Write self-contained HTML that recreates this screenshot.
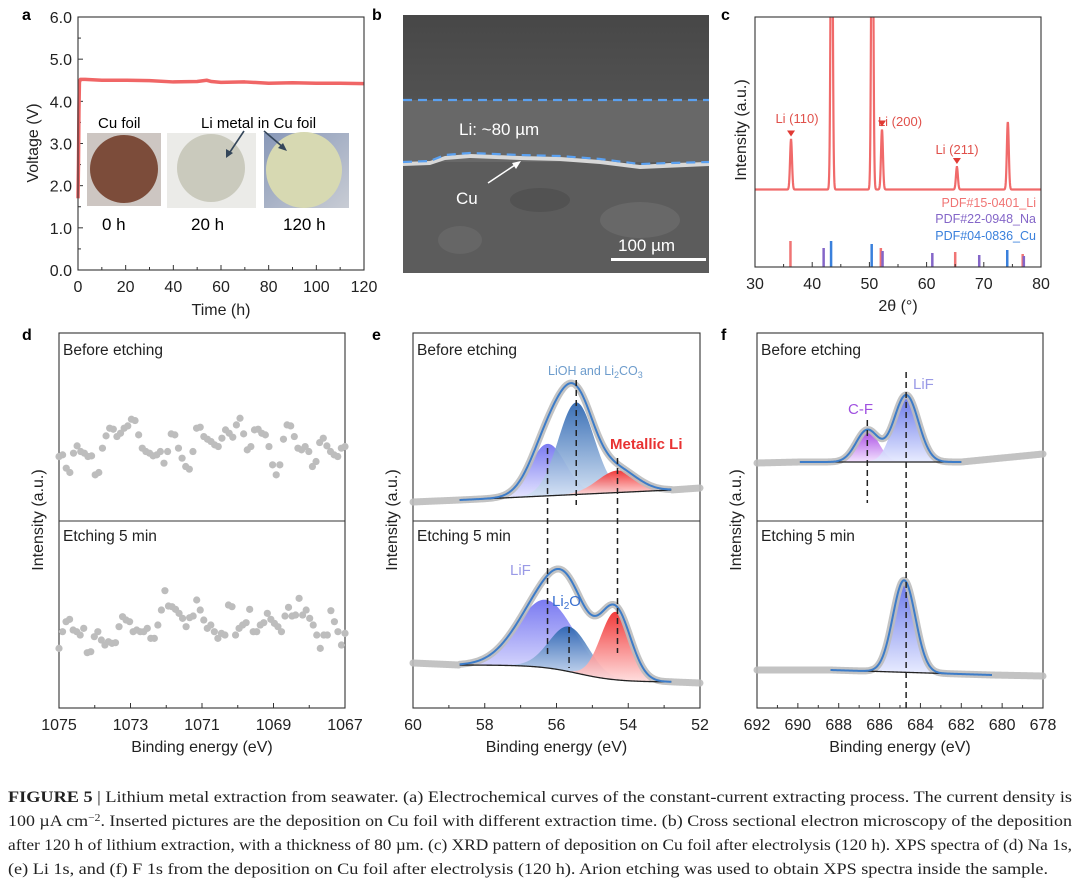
<!DOCTYPE html>
<html><head><meta charset="utf-8">
<style>
html,body{margin:0;padding:0;background:#fff;}
svg{display:block;font-family:"Liberation Sans",Arial,sans-serif;}
.cap{font-family:"Liberation Serif",serif;font-size:15.5px;fill:#222;}
</style></head>
<body>
<svg id="fig" width="1080" height="881" viewBox="0 0 1080 881" xmlns="http://www.w3.org/2000/svg">
<defs>
<linearGradient id="gPur" x1="0" y1="0" x2="0" y2="1"><stop offset="0" stop-color="#6f6ff0"/><stop offset="1" stop-color="#e4e4ff"/></linearGradient>
<linearGradient id="gBlu" x1="0" y1="0" x2="0" y2="1"><stop offset="0" stop-color="#2a64b0"/><stop offset="1" stop-color="#d4e2f4"/></linearGradient>
<linearGradient id="gRed" x1="0" y1="0" x2="0" y2="1"><stop offset="0" stop-color="#f02a2a"/><stop offset="1" stop-color="#ffdcdc"/></linearGradient>
<linearGradient id="gVio" x1="0" y1="0" x2="0" y2="1"><stop offset="0" stop-color="#a038e0"/><stop offset="1" stop-color="#f2e0ff"/></linearGradient>
<linearGradient id="gLiF" x1="0" y1="0" x2="0" y2="1"><stop offset="0" stop-color="#5a6ae8"/><stop offset="1" stop-color="#e6eaff"/></linearGradient>
<linearGradient id="gBg120" x1="0" y1="0" x2="1" y2="1"><stop offset="0" stop-color="#8898b8"/><stop offset="1" stop-color="#c8ccd4"/></linearGradient>
<clipPath id="clipC"><rect x="755" y="17" width="286" height="250"/></clipPath>
<linearGradient id="semTop" x1="0" y1="0" x2="0" y2="1"><stop offset="0" stop-color="#474747"/><stop offset="1" stop-color="#525252"/></linearGradient>
</defs>

<text x="22" y="20" font-weight="bold" font-size="16">a</text>
<text x="372" y="20" font-weight="bold" font-size="16">b</text>
<text x="721" y="20" font-weight="bold" font-size="16">c</text>
<text x="22" y="340" font-weight="bold" font-size="16">d</text>
<text x="372" y="340" font-weight="bold" font-size="16">e</text>
<text x="721" y="340" font-weight="bold" font-size="16">f</text>

<g>
  <rect x="87" y="133" width="74" height="73" fill="#cdc6c2"/>
  <circle cx="124" cy="169" r="34" fill="#7c4c3a"/>
  <rect x="167" y="133" width="89" height="75" fill="#ebebe8"/>
  <circle cx="211" cy="168" r="34" fill="#cacabd"/>
  <rect x="264" y="133" width="85" height="75" fill="url(#gBg120)"/>
  <circle cx="304" cy="170" r="38" fill="#d7d9b2"/>
  <text x="98" y="128" font-size="15">Cu foil</text>
  <text x="201" y="128" font-size="15">Li metal in Cu foil</text>
  <line x1="244" y1="131" x2="228" y2="155" stroke="#34465a" stroke-width="1.6"/>
  <polygon points="226,158 226,149 233,153" fill="#34465a"/>
  <line x1="264" y1="131" x2="284" y2="148" stroke="#34465a" stroke-width="1.6"/>
  <polygon points="287,151 278,148 283,143" fill="#34465a"/>
  <text x="102" y="230" font-size="17">0 h</text>
  <text x="191" y="230" font-size="17">20 h</text>
  <text x="283" y="230" font-size="17">120 h</text>
</g>

<g>
  <rect x="403" y="15" width="306" height="86" fill="url(#semTop)"/>
  <rect x="403" y="100" width="306" height="62" fill="#686868"/>
  <rect x="403" y="162" width="306" height="111" fill="#5c5c5c"/>
  <ellipse cx="460" cy="240" rx="22" ry="14" fill="#666"/>
  <ellipse cx="640" cy="220" rx="40" ry="18" fill="#686868"/>
  <ellipse cx="540" cy="200" rx="30" ry="12" fill="#525252"/>
  <path d="M403,162 L430,161 L445,156 L470,154 L520,156 L560,157 L600,160 L640,165 L670,163 L709,162 L709,166 L640,169 L600,164 L560,161 L520,160 L470,158 L445,160 L430,165 L403,166 Z" fill="#d8d8d8"/>
  <line x1="403" y1="100" x2="709" y2="100" stroke="#5aa0f0" stroke-width="2.2" stroke-dasharray="9,6"/>
  <path d="M403,162 L430,161 L445,155 L470,153 L520,155 L560,156 L600,159 L640,164 L670,163 L709,162" fill="none" stroke="#5aa0f0" stroke-width="2.2" stroke-dasharray="9,6"/>
  <text x="459" y="135" font-size="17" fill="#fff">Li: ~80 µm</text>
  <line x1="488" y1="183" x2="518" y2="163" stroke="#fff" stroke-width="1.5"/>
  <polygon points="521,161 512,163 516,169" fill="#fff"/>
  <text x="456" y="204" font-size="17" fill="#fff">Cu</text>
  <text x="618" y="251" font-size="17" fill="#fff">100 µm</text>
  <rect x="611" y="258" width="95" height="3" fill="#fff"/>
</g>

<g>
  <text class="cap" x="8" y="802" textLength="1064" lengthAdjust="spacingAndGlyphs"><tspan font-weight="bold">FIGURE 5</tspan>  |  Lithium metal extraction from seawater. (a) Electrochemical curves of the constant-current extracting process. The current density is</text>
  <text class="cap" x="8" y="826" textLength="1064" lengthAdjust="spacingAndGlyphs">100 µA cm<tspan baseline-shift="super" font-size="10">−2</tspan>. Inserted pictures are the deposition on Cu foil with different extraction time. (b) Cross sectional electron microscopy of the deposition</text>
  <text class="cap" x="8" y="850" textLength="1064" lengthAdjust="spacingAndGlyphs">after 120 h of lithium extraction, with a thickness of 80 µm. (c) XRD pattern of deposition on Cu foil after electrolysis (120 h). XPS spectra of (d) Na 1s,</text>
  <text class="cap" x="8" y="874" textLength="1040" lengthAdjust="spacingAndGlyphs">(e) Li 1s, and (f) F 1s from the deposition on Cu foil after electrolysis (120 h). Arion etching was used to obtain XPS spectra inside the sample.</text>
</g>
</svg>

<script>
const timeH = [0,0.2,0.4,0.6,1,3,10,20,30,40,50,54,56,60,70,80,90,100,110,120];
const voltV = [1.7,2.5,3.8,4.45,4.52,4.52,4.5,4.5,4.49,4.46,4.47,4.5,4.47,4.45,4.46,4.43,4.44,4.43,4.43,4.42];
const aYTicks = [0,1,2,3,4,5,6];
const aXTicks = [0,20,40,60,80,100,120];
const xrdPeakPos = [36.3,43.4,50.5,52.2,65.3,74.2];
const xrdPeakHt = [20,160,160,24,9,27];
const xrdBaseline = 31;
const liRefPos = [36.2,52.0,65.0,76.8];
const liRefHt = [10.4,7.6,6,5.2];
const naRefPos = [42.0,52.3,61.0,69.2,77.0];
const naRefHt = [7.6,6.4,5.6,4.8,4.4];
const cuRefPos = [43.3,50.4,74.1];
const cuRefHt = [10.4,9.2,6.8];
const cXTicks = [30,40,50,60,70,80];
const naTop = [590,595,555,542,600,622,605,600,590,592,535,542,615,652,675,672,650,660,675,682,702,698,655,615,605,600,592,595,605,570,605,658,655,615,585,560,552,605,675,678,650,642,635,625,620,645,670,660,648,685,705,658,610,620,670,672,660,655,620,565,535,565,642,685,682,650,615,610,620,605,560,575,632,645,622,605,595,590,615,620];
const naBot = [115,165,195,202,170,165,155,175,102,105,150,165,140,125,135,130,132,180,210,200,195,165,170,165,165,175,145,145,185,230,288,242,240,232,220,205,180,207,212,260,230,200,175,185,165,145,160,155,245,240,155,175,185,192,232,165,165,185,192,220,202,190,180,165,212,238,212,215,265,215,230,205,185,155,115,155,155,228,195,165,125,160];
const eTopPos = [56.25,55.45,54.3];
const eTopHt = [52,92,22];
const eTopSig = [0.5,0.5,0.55];
const eTopBg = [10,20];
const eTopTail = [8,22];
const eBotPos = [56.3,55.65,54.35];
const eBotHt = [68,45,68];
const eBotSig = [0.8,0.55,0.42];
const eBotBg = [25,8];
const eBotTail = [27,7];
const eXTicks = [60,58,56,54,52];
const fTopPos = [686.6,684.7];
const fTopHt = [32,67];
const fTopSig = [0.55,0.6];
const fTopBg = [8,8];
const fTopTail = [7,16];
const fBotPos = [684.8];
const fBotHt = [92];
const fBotSig = [0.55];
const fBotBg = [20,15];
const fBotTail = [20,14];
const fXTicks = [692,690,688,686,684,682,680,678];

const NS = 'http://www.w3.org/2000/svg';
const svg = document.getElementById('fig');
function mk(tag, attrs, parent){
  const el = document.createElementNS(NS, tag);
  for (const k in attrs) el.setAttribute(k, attrs[k]);
  (parent||svg).appendChild(el);
  return el;
}
function lin(d0,d1,r0,r1){ return v => r0 + (v-d0)/(d1-d0)*(r1-r0); }
function txt(s, x, y, attrs, parent){
  const t = mk('text', Object.assign({x:x, y:y, 'font-size':15, fill:'#222'}, attrs||{}), parent);
  t.textContent = s; return t;
}
function frame(x0,y0,x1,y1,name){
  const r = mk('rect',{x:x0,y:y0,width:x1-x0,height:y1-y0,fill:'none',stroke:'#333','stroke-width':1.1});
  
  
}
function xAxis(ticks, sx, y, minorStep, lo, hi, name){
  const g = mk('g',{});
  
  
  ticks.forEach(v=>{
    const x = sx(v);
    mk('line',{x1:x,y1:y,x2:x,y2:y-5,stroke:'#333','stroke-width':1},g);
    const t = txt(String(v), x, y+22, {'text-anchor':'middle','font-size':16}, g);
    
    
  });
  if (minorStep){
    for (let v=lo; v<=hi+1e-9; v+=minorStep){
      if (ticks.some(t=>Math.abs(t-v)<1e-6)) continue;
      const x = sx(v);
      mk('line',{x1:x,y1:y,x2:x,y2:y-3,stroke:'#333','stroke-width':1},g);
    }
  }
  return g;
}
function gsum(E, pos, ht, sig){ let s=0; for(let i=0;i<pos.length;i++) s+=ht[i]*Math.exp(-((E-pos[i])**2)/(2*sig[i]*sig[i])); return s; }

(function(){
  const sx = lin(0,120,78,364), sy = lin(0,6,270,17);
  const g = mk('g',{});
  
  
  frame(78,17,364,270,'plot-frame-a');
  aYTicks.forEach(v=>{
    const y = sy(v);
    mk('line',{x1:78,y1:y,x2:83,y2:y,stroke:'#333'},g);
    const t = txt(v.toFixed(1), 72, y+6, {'text-anchor':'end','font-size':16}, g);
    
    
    if (v<6){ const ym = sy(v+0.5); mk('line',{x1:78,y1:ym,x2:81,y2:ym,stroke:'#333'},g); }
  });
  xAxis(aXTicks, sx, 270, 10, 0, 120, 'x-axis-a');
  const pts = timeH.map((t,i)=>sx(t)+','+sy(voltV[i])).join(' ');
  const line = mk('polyline',{points:pts,fill:'none',stroke:'#f06666','stroke-width':3.5,'stroke-linejoin':'round'},g);
  
  
  const xt = txt('Time (h)', 221, 315, {'text-anchor':'middle','font-size':16}, g);
  
  
  const yt = txt('Voltage (V)', 0, 0, {'text-anchor':'middle','font-size':16, transform:'translate(38,143) rotate(-90)'}, g);
  
  
})();

(function(){
  const sx = lin(30,80,755,1041), sy = lin(0,100,267,17);
  const g = mk('g',{});
  
  
  frame(755,17,1041,267,'plot-frame-c');
  xAxis(cXTicks, sx, 267, 5, 30, 80, 'x-axis-c');
  const sig = xrdPeakPos.map(()=>0.17);
  const pts=[];
  for (let E=30; E<=80.001; E+=0.04){
    pts.push(sx(E)+','+sy(xrdBaseline + gsum(E, xrdPeakPos, xrdPeakHt, sig)));
  }
  const c = mk('polyline',{points:pts.join(' '),fill:'none',stroke:'#f06a6a','stroke-width':2.2,'clip-path':'url(#clipC)'},g);
  
  
  function sticks(pos, ht, col, name){
    pos.forEach((p,i)=>{
      const s = mk('line',{x1:sx(p),y1:sy(0),x2:sx(p),y2:sy(ht[i]),stroke:col,'stroke-width':2.5},g);
      
      
    });
  }
  sticks(liRefPos, liRefHt, '#f07474', 'ref-li-stick');
  sticks(naRefPos, naRefHt, '#8466c8', 'ref-na-stick');
  sticks(cuRefPos, cuRefHt, '#3a80dc', 'ref-cu-stick');
  const labels = [['Li (110)',0,797,123],['Li (200)',3,900,126],['Li (211)',4,957,154]];
  labels.forEach(l=>{
    const t = txt(l[0], l[2], l[3], {'text-anchor':'middle','font-size':13,fill:'#e0504a'}, g);
    
    
    const px = sx(xrdPeakPos[l[1]]), py = sy(xrdBaseline+xrdPeakHt[l[1]]) - 3;
    const m = mk('polygon',{points:(px-4)+','+(py-6)+' '+(px+4)+','+(py-6)+' '+px+','+py,fill:'#e03a34'},g);
    
    
  });
  [['PDF#15-0401_Li','#f07474',207],['PDF#22-0948_Na','#8466c8',223],['PDF#04-0836_Cu','#3a80dc',240]].forEach(l=>{
    const t = txt(l[0], 1036, l[2], {'text-anchor':'end','font-size':12.5,fill:l[1]}, g);
    
    
  });
  const xt = txt('2θ (°)', 898, 311, {'text-anchor':'middle','font-size':16}, g);
  
  
  const yt = txt('Intensity (a.u.)', 0, 0, {'text-anchor':'middle','font-size':16, transform:'translate(746,130) rotate(-90)'}, g);
  
  
})();

function xpsFrame(x0,x1,ticks,minor,lo,hi,id,title){
  frame(x0,333,x1,708,'plot-frame-'+id);
  const sep = mk('line',{x1:x0,y1:521,x2:x1,y2:521,stroke:'#333','stroke-width':1.1});
  
  
  const sx = lin(ticks[0], ticks[ticks.length-1], x0, x1);
  xAxis(ticks, sx, 708, minor, Math.min(lo,hi), Math.max(lo,hi), 'x-axis-'+id);
  const xt = txt('Binding energy (eV)', (x0+x1)/2, 752, {'text-anchor':'middle','font-size':16});
  
  
  const yt = txt('Intensity (a.u.)', 0, 0, {'text-anchor':'middle','font-size':16, transform:'translate('+(x0-16)+',520) rotate(-90)'});
  
  
  const t1 = txt('Before etching', x0+4, 355, {'font-size':15.5});
  
  
  const t2 = txt('Etching 5 min', x0+4, 541, {'font-size':15.5});
  
  
  const t3 = txt(title, x1-16, 355, {'font-size':15.5,'text-anchor':'end'});
  
  
  return sx;
}

(function(){
  const sx = xpsFrame(59,345,[1075,1073,1071,1069,1067],1,1067,1075,'d');
  const yTop = lin(0,1000,653,320);
  const yBot = lin(0,1000,686.7,353.3);
  function dots(arr, sy, name){
    const n = arr.length;
    arr.forEach((v,i)=>{
      const E = 1075 - i*8/(n-1);
      const c = mk('circle',{cx:sx(E),cy:sy(v),r:3.6,fill:'#bdbdbd'});
      
      
    });
  }
  dots(naTop, yTop, 'na1s-before-point');
  dots(naBot, yBot, 'na1s-etched-point');
})();

function drawFit(sx, Elo, Ehi, fitL, fitR, pos, ht, sig, bgArr, tail, y0, fills, bgCurved, name){
  const sy = v => y0 - v;
  const bg = E => {
    if (bgCurved) return bgArr[1] + (bgArr[0]-bgArr[1])/(1+Math.exp(-(E-55.4)/0.55));
    return bgArr[0] + (bgArr[1]-bgArr[0])*(fitL-E)/(fitL-fitR);
  };
  const step = (fitL-fitR)/200;
  pos.forEach((p,i)=>{
    let top=[], bot=[];
    for (let E=fitL; E>=fitR-1e-9; E-=step){
      const h = ht[i]*Math.exp(-((E-p)**2)/(2*sig[i]*sig[i]));
      if (h < 0.4) continue;
      top.push(sx(E)+','+sy(bg(E)+h));
      bot.unshift(sx(E)+','+sy(bg(E)));
    }
    const a = mk('polygon',{points:top.concat(bot).join(' '),fill:fills[i],opacity:0.92});
    
    
  });
  const gpts=[];
  for (let E=Elo; E>=Ehi-1e-9; E-=(Elo-Ehi)/300){
    let v;
    if (E>fitL) v = tail[0] + (bg(fitL)-tail[0])*(Elo-E)/(Elo-fitL);
    else if (E<fitR) v = bg(fitR) + (tail[1]-bg(fitR))*(fitR-E)/(fitR-Ehi);
    else v = bg(E) + gsum(E,pos,ht,sig);
    gpts.push(sx(E)+','+sy(v));
  }
  const gl = mk('polyline',{points:gpts.join(' '),fill:'none',stroke:'#bcbcbc','stroke-width':7,'stroke-linejoin':'round','stroke-linecap':'round',opacity:0.9});
  
  
  const bp=[], ep=[];
  for (let E=fitL; E>=fitR-1e-9; E-=step){
    bp.push(sx(E)+','+sy(bg(E)));
    ep.push(sx(E)+','+sy(bg(E)+gsum(E,pos,ht,sig)));
  }
  const bl = mk('polyline',{points:bp.join(' '),fill:'none',stroke:'#222','stroke-width':1.3});
  
  
  const el = mk('polyline',{points:ep.join(' '),fill:'none',stroke:'#3d7cc8','stroke-width':2});
  
  
}
function dash(x, y1, y2){
  const d = mk('line',{x1:x,y1:y1,x2:x,y2:y2,stroke:'#222','stroke-width':1.5,'stroke-dasharray':'6,4'});
  
  
}

(function(){
  const sx = xpsFrame(413,700,eXTicks,1,52,60,'e');
  drawFit(sx, 60, 52, 58.7, 52.8, eTopPos, eTopHt, eTopSig, eTopBg, eTopTail, 510, ['url(#gPur)','url(#gBlu)','url(#gRed)'], false, 'li1s-before');
  drawFit(sx, 60, 52, 58.7, 52.8, eBotPos, eBotHt, eBotSig, eBotBg, eBotTail, 690, ['url(#gPur)','url(#gBlu)','url(#gRed)'], true, 'li1s-etched');
  dash(sx(eTopPos[0]), 448, 655);
  dash(sx(eTopPos[1]), 380, 505);
  dash(sx(eBotPos[1]), 627, 668);
  dash(sx(eTopPos[2]), 458, 653);
  const a = txt('LiOH and Li', 548, 375, {'font-size':12.5,fill:'#6d9ccc'});
  
  
  const s1 = mk('tspan',{'font-size':9,dy:3}, a); s1.textContent='2';
  const s2 = mk('tspan',{dy:-3}, a); s2.textContent='CO';
  const s3 = mk('tspan',{'font-size':9,dy:3}, a); s3.textContent='3';
  const m = txt('Metallic Li', 610, 449, {'font-size':15,'font-weight':'bold',fill:'#e83232'});
  
  
  const l = txt('LiF', 510, 575, {'font-size':15,fill:'#9a9ae6'});
  
  
  const o = txt('Li', 552, 606, {'font-size':15,fill:'#3a70d0'});
  
  
  const o1 = mk('tspan',{'font-size':10,dy:3}, o); o1.textContent='2';
  const o2 = mk('tspan',{dy:-3}, o); o2.textContent='O';
})();

(function(){
  const sx = xpsFrame(757,1043,fXTicks,1,678,692,'f');
  drawFit(sx, 692, 678, 689.9, 682.0, fTopPos, fTopHt, fTopSig, fTopBg, fTopTail, 470, ['url(#gVio)','url(#gLiF)'], false, 'f1s-before');
  drawFit(sx, 692, 678, 688.4, 680.5, fBotPos, fBotHt, fBotSig, fBotBg, fBotTail, 690, ['url(#gLiF)'], false, 'f1s-etched');
  dash(sx(fTopPos[0]), 420, 503);
  dash(sx(fTopPos[1]), 372, 712);
  const c = txt('C-F', 848, 414, {'font-size':15,fill:'#a050e0'});
  
  
  const l = txt('LiF', 913, 389, {'font-size':15,fill:'#9a9ae6'});
  
  
})();
</script>
</body></html>
